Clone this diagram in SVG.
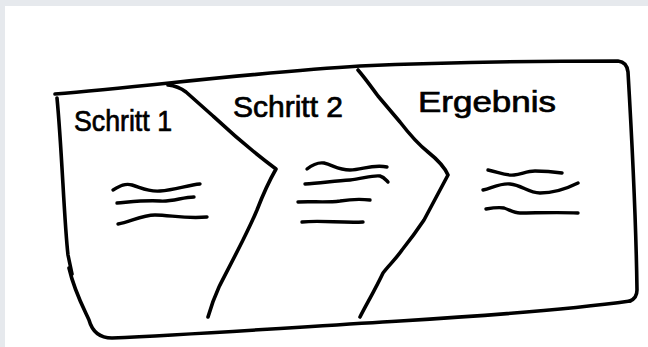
<svg xmlns="http://www.w3.org/2000/svg" width="648" height="347" viewBox="0 0 648 347">
<style>
.ln{fill:none;stroke:#000;stroke-width:3.6;stroke-linecap:round;stroke-linejoin:round}
.wv{fill:none;stroke:#000;stroke-width:3.4;stroke-linecap:round;stroke-linejoin:round}
.lbl{font-family:"Liberation Sans",Arial,sans-serif;font-size:29px;fill:#000;stroke:#000;stroke-width:0.7}
</style>
<rect x="0" y="0" width="648" height="347" fill="#e6e9ed"/>
<rect x="5" y="6" width="643" height="341" fill="#ffffff"/>
<g id="frame">
<path class="ln" d="M55 94 C150 86 260 72 360 66 C450 62 560 61 618 61 Q627 62 628 72 C632 140 636 220 637 290 Q637 298 630 301"/>
<path class="ln" d="M57 98 C62 150 64 220 68 255 L72 274"/>
<path class="ln" d="M69 268 C74 290 82 305 89 320 Q94 338 112 338 C200 334 300 327 400 321 C500 315 580 308 630 301"/>
</g>
<g id="connectors">
<path class="ln" d="M168 85 Q178 86 186 92 L213 116 C228 130 245 146 276 169 C268 183 262 197 257 210 C252 222 248 230 243 240 C233 260 225 275 219 287 C213 300 210 310 208 317"/>
<path class="ln" d="M358 70 C365 78 372 88 378 96 L400 122 C410 135 418 144 428 152 C438 160 445 168 448 175 C440 190 432 205 424 220 C416 232 410 240 402 250 C395 260 389 265 383 273 C375 290 366 305 360 317"/>
</g>
<g id="step1">
<text class="lbl" x="74" y="131" textLength="98" lengthAdjust="spacingAndGlyphs">Schritt 1</text>
<path class="wv" d="M113 190 C120 186 125 183 132 185 C142 188 148 192 160 191 C175 190 188 185 200 184"/>
<path class="wv" d="M117 203 C130 202 145 200 160 201 C172 202 183 197 194 197"/>
<path class="wv" d="M118 224 C130 222 142 215 155 215 C170 215 185 219 207 217"/>
</g>
<g id="step2">
<text class="lbl" x="233" y="117" textLength="110" lengthAdjust="spacingAndGlyphs">Schritt 2</text>
<path class="wv" d="M307 169 C312 165 317 162 324 163 C333 165 338 170 350 170 C362 170 372 164 387 167"/>
<path class="wv" d="M305 184 C320 183 335 181 350 180 C362 179 372 175 380 176 C384 177 386 180 388 182"/>
<path class="wv" d="M298 202 C312 201 325 203 340 201 C352 199 362 199 370 200"/>
<path class="wv" d="M302 222 C320 220 340 223 363 222"/>
</g>
<g id="result">
<text class="lbl" x="418" y="112" textLength="138" lengthAdjust="spacingAndGlyphs">Ergebnis</text>
<path class="wv" d="M488 170 C498 172 505 176 514 175 C522 174 527 171 535 171 C545 171 555 172 562 173"/>
<path class="wv" d="M483 190 C492 188 500 183 510 184 C522 185 528 193 540 193 C555 193 568 188 578 183"/>
<path class="wv" d="M486 209 C492 208 498 207 504 208 C510 210 514 213 520 213 C535 213 558 212 578 213"/>
</g>
</svg>
